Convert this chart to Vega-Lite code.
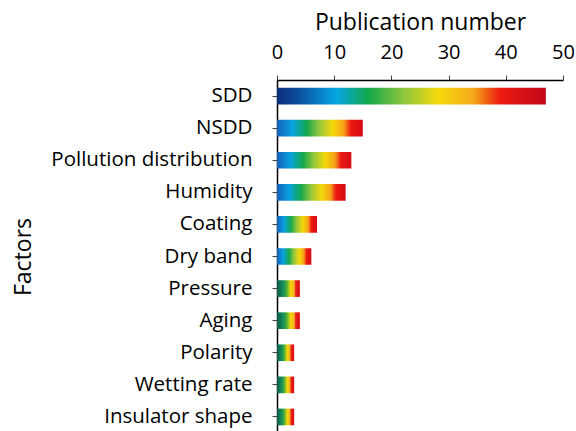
{
  "$schema": "https://vega.github.io/schema/vega-lite/v6.json",
  "autosize": {"type": "none"},
  "padding": {"left": 277, "top": 80, "right": 13, "bottom": 0},
  "width": 286,
  "height": 353,
  "background": "white",
  "config": {
    "view": {"stroke": null},
    "font": "Open Sans",
    "axis": {"labelFont": "Open Sans", "titleFont": "Open Sans", "labelColor": "#000", "titleColor": "#000", "titleFontWeight": "normal", "grid": false}
  },
  "data": {
    "values": [
      {"factor": "SDD", "n": 47, "group": "a"},
      {"factor": "NSDD", "n": 15, "group": "b"},
      {"factor": "Pollution distribution", "n": 13, "group": "b"},
      {"factor": "Humidity", "n": 12, "group": "b"},
      {"factor": "Coating", "n": 7, "group": "b"},
      {"factor": "Dry band", "n": 6, "group": "b"},
      {"factor": "Pressure", "n": 4, "group": "c"},
      {"factor": "Aging", "n": 4, "group": "c"},
      {"factor": "Polarity", "n": 3, "group": "c"},
      {"factor": "Wetting rate", "n": 3, "group": "c"},
      {"factor": "Insulator shape", "n": 3, "group": "c"}
    ]
  },
  "encoding": {
    "y": {
      "field": "factor", "type": "nominal", "sort": null,
      "scale": {"paddingInner": 0.48, "paddingOuter": 0.24},
      "axis": {"title": "Factors", "titleFontSize": 23, "titleX": -247, "titleBaseline": "alphabetic", "labelFontSize": 20.5, "labelLimit": 400, "labelPadding": 20, "tickSize": 5, "tickColor": "#444", "domainColor": "#000", "domainWidth": 1.5}
    },
    "x": {
      "field": "n", "type": "quantitative",
      "scale": {"domain": [0, 50]},
      "axis": {"orient": "top", "title": "Publication number", "values": [0, 10, 20, 30, 40, 50], "titleFontSize": 23, "titlePadding": 8, "labelFontSize": 20, "labelPadding": 13, "tickSize": 5, "tickColor": "#444", "domainColor": "#000", "domainWidth": 1.5, "labelFlush": false}
    }
  },
  "layer": [
    {
      "transform": [{"filter": "datum.group === 'a'"}],
      "mark": {"type": "bar", "color": {"gradient": "linear", "x1": 0, "x2": 1, "y1": 0, "y2": 0, "stops": [
        {"offset": 0, "color": "#0b2f7a"},
        {"offset": 0.07, "color": "#0d4a9a"},
        {"offset": 0.22, "color": "#05a6e6"},
        {"offset": 0.34, "color": "#12a84a"},
        {"offset": 0.47, "color": "#8cc63f"},
        {"offset": 0.6, "color": "#f5d90a"},
        {"offset": 0.73, "color": "#f6a81a"},
        {"offset": 0.83, "color": "#ee1b10"},
        {"offset": 1, "color": "#c0071a"}
      ]}},
      "encoding": {}
    },
    {
      "transform": [{"filter": "datum.group === 'b'"}],
      "mark": {"type": "bar", "color": {"gradient": "linear", "x1": 0, "x2": 1, "y1": 0, "y2": 0, "stops": [
        {"offset": 0, "color": "#1560b8"},
        {"offset": 0.18, "color": "#08a2e2"},
        {"offset": 0.35, "color": "#15a84c"},
        {"offset": 0.5, "color": "#9ac83c"},
        {"offset": 0.65, "color": "#f5d80a"},
        {"offset": 0.78, "color": "#f6a01a"},
        {"offset": 0.86, "color": "#ec1a10"},
        {"offset": 1, "color": "#d20a14"}
      ]}},
      "encoding": {}
    },
    {
      "transform": [{"filter": "datum.group === 'c'"}],
      "mark": {"type": "bar", "color": {"gradient": "linear", "x1": 0, "x2": 1, "y1": 0, "y2": 0, "stops": [
        {"offset": 0, "color": "#0d5a4a"},
        {"offset": 0.25, "color": "#138a5a"},
        {"offset": 0.4, "color": "#3aaa3c"},
        {"offset": 0.6, "color": "#f2d60c"},
        {"offset": 0.75, "color": "#f5b020"},
        {"offset": 0.82, "color": "#e8201a"},
        {"offset": 1, "color": "#d80a14"}
      ]}},
      "encoding": {}
    }
  ]
}
